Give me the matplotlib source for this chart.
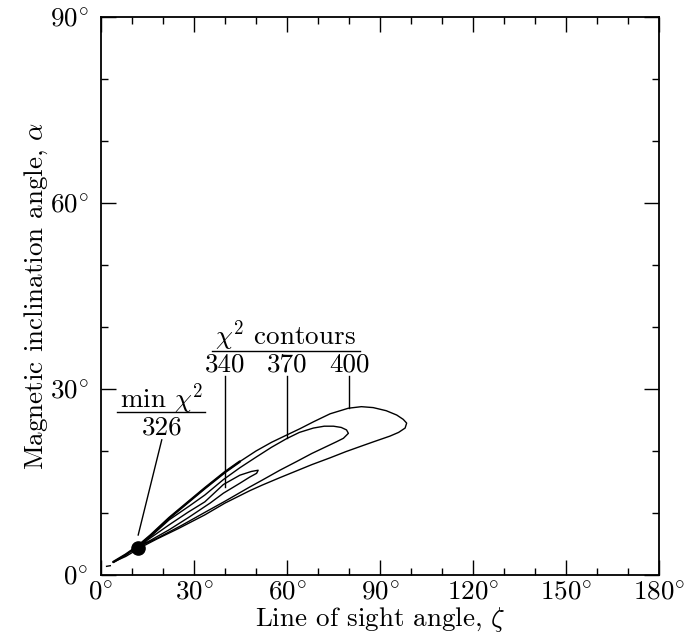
import matplotlib
matplotlib.use("Agg")
import matplotlib.pyplot as plt
from matplotlib.ticker import MultipleLocator

plt.rcParams['font.family'] = 'serif'
plt.rcParams['font.serif'] = ['cmr10', 'DejaVu Serif']
plt.rcParams['mathtext.fontset'] = 'cm'
plt.rcParams['axes.unicode_minus'] = False

# ---- data (zeta, alpha in degrees) ----
c400_zeta = [4.0, 8.0, 12.0, 16.0, 22.0, 28.7, 33.5, 40.0, 44.8, 50.0, 55.0, 60.0, 64.2, 68.5,
             73.9, 79.8, 84.0, 87.8, 92.0, 95.4, 97.5, 98.6, 98.1, 96.0, 93.2, 88.0, 84.6,
             79.0, 73.9, 68.0, 63.1, 57.7, 52.0, 48.0, 44.0, 40.0, 33.5, 25.0, 18.0, 13.0,
             8.0, 4.0]
c400_alpha = [2.1, 3.3, 4.7, 6.4, 9.2, 12.0, 14.0, 16.6, 18.3, 20.0, 21.4, 22.6, 23.6, 24.7,
              26.0, 26.9, 27.15, 27.0, 26.5, 25.8, 25.1, 24.5, 23.7, 23.0, 22.4, 21.5, 20.9,
              19.9, 18.9, 17.8, 16.8, 15.7, 14.5, 13.6, 12.6, 11.6, 9.7, 7.5, 5.8, 4.5,
              3.0, 2.1]

c370_zeta = [11.0, 16.0, 22.0, 28.7, 33.5, 39.5, 44.8, 50.0, 55.0, 59.9, 64.0, 68.5, 72.0,
             75.0, 77.5, 79.2, 79.8, 78.2, 76.0, 73.9, 68.0, 63.1, 57.7, 52.0, 48.0, 40.0,
             33.5, 26.0, 18.0, 11.0]
c370_alpha = [4.3, 6.2, 8.9, 11.2, 12.9, 15.4, 17.3, 19.0, 20.6, 22.0, 23.0, 23.7, 24.0,
              24.0, 23.8, 23.4, 22.85, 22.05, 21.5, 21.0, 19.6, 18.3, 16.9, 15.3, 14.2, 11.9,
              10.1, 8.0, 5.9, 4.3]

c340_zeta = [11.5, 16.0, 22.0, 28.0, 33.5, 39.5, 44.8, 48.5, 50.7, 50.2, 48.0, 44.8, 39.5,
             35.2, 28.0, 22.0, 16.0, 11.5]
c340_alpha = [4.4, 6.0, 8.1, 10.1, 11.8, 14.6, 16.1, 16.7, 16.9, 16.4, 15.8, 14.8, 13.2,
              11.6, 9.2, 7.3, 5.6, 4.4]

dash_zeta = [1.8, 3.0]
dash_alpha = [1.4, 1.5]

min_zeta = [12.0]
min_alpha = [4.3]

contour_levels = ['340', '370', '400']
level_zeta = [40.0, 60.0, 80.0]
level_touch = [14.2, 22.1, 27.0]
min_chi2 = '326'

xticks = [0, 30, 60, 90, 120, 150, 180]
yticks = [0, 30, 60, 90]

# ---- figure ----
W, H = 686, 637
fig = plt.figure(figsize=(W / 100, H / 100), dpi=100)
ax = fig.add_axes([101 / W, (H - 575) / H, 558 / W, 558 / H])
ax.set_xlim(0, 180)
ax.set_ylim(0, 90)

lw = 1.0
ax.plot(c400_zeta, c400_alpha, color='black', lw=lw, solid_joinstyle='round')
# the rough (thicker-looking) upper branch of the 400 contour near the minimum
ax.plot(c400_zeta[:9], c400_alpha[:9], color='black', lw=1.8, solid_capstyle='round')
ax.plot(c370_zeta, c370_alpha, color='black', lw=lw, solid_joinstyle='round')
ax.plot(c340_zeta, c340_alpha, color='black', lw=lw, solid_joinstyle='round')
ax.plot(dash_zeta, dash_alpha, color='black', lw=lw)
ax.plot(min_zeta, min_alpha, 'o', color='black', ms=9.5)

fs = 19.5
# chi^2 contours label block
ax.text(59.5, 38.6, r'$\chi^2$ contours', ha='center', va='center', fontsize=fs)
ax.plot([35.7, 83.5], [36.1, 36.1], color='black', lw=lw)
for lab, z, t in zip(contour_levels, level_zeta, level_touch):
    ax.text(z, 33.9, lab, ha='center', va='center', fontsize=fs)
    ax.plot([z, z], [32.1, t], color='black', lw=lw)

# min chi^2 label block
ax.text(19.6, 28.5, r'min $\chi^2$', ha='center', va='center', fontsize=fs)
ax.plot([5.1, 33.5], [26.3, 26.3], color='black', lw=lw)
ax.text(19.6, 23.7, min_chi2, ha='center', va='center', fontsize=fs)
ax.plot([19.6, 12.0], [21.8, 6.45], color='black', lw=lw)

# axes styling
ax.set_xticks(xticks)
ax.set_xticklabels([r'$%d^{\circ}$' % v for v in xticks])
ax.set_yticks(yticks)
ax.set_yticklabels([r'$%d^{\circ}$' % v for v in yticks])
ax.xaxis.set_minor_locator(MultipleLocator(10))
ax.yaxis.set_minor_locator(MultipleLocator(10))
ax.tick_params(which='both', direction='in', top=True, right=True, labelsize=fs, color='black')
ax.tick_params(which='major', length=10.5, width=1.0, pad=9)
ax.tick_params(axis='x', which='major', pad=4)
ax.tick_params(which='minor', length=5.3, width=1.0)
for s in ax.spines.values():
    s.set_linewidth(1.3)

ax.set_xlabel(r'Line of sight angle, $\zeta$', fontsize=fs, labelpad=0.5)
ax.set_ylabel(r'Magnetic inclination angle, $\alpha$', fontsize=fs, labelpad=0)

fig.savefig('out.png', dpi=100)
